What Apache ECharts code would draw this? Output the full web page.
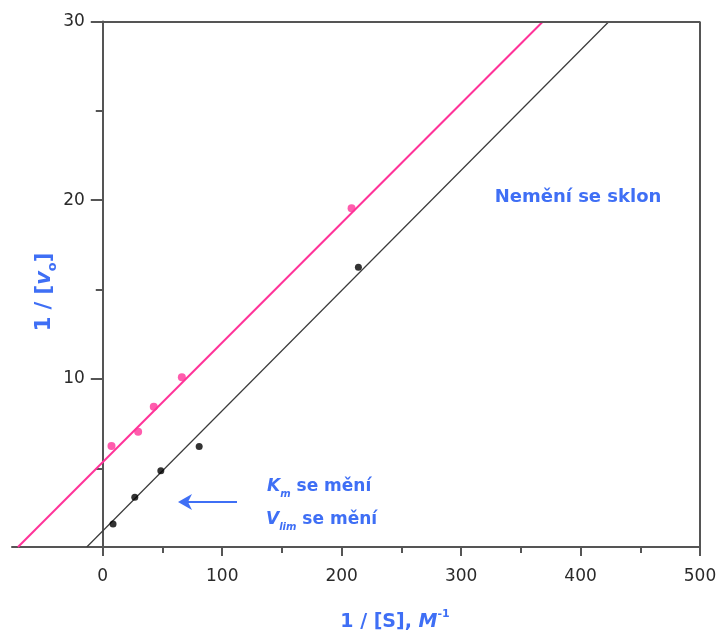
<!DOCTYPE html>
<html><head><meta charset="utf-8">
<script src="https://cdn.jsdelivr.net/npm/echarts@6/dist/echarts.min.js"></script>
<style>html,body{margin:0;padding:0;background:#fff}#c{width:721px;height:639px}</style>
</head><body><div id="c"></div><script>
// Data
const pinkX = [7.3, 29.6, 42.7, 66.2, 208.3];
const pinkY = [6.25, 7.05, 8.45, 10.1, 19.55];
const blackX = [8.6, 26.8, 48.6, 80.7, 214];
const blackY = [1.89, 3.38, 4.87, 6.22, 16.25];
// regression line end points
const pinkFitX = [-71, 368.5];
const pinkFitY = [0.6, 30];
const blackFitX = [-13.4, 423.8];
const blackFitY = [0.6, 30];
// axes
const xTickLabels = [0, 100, 200, 300, 400, 500];
const xMinorTicks = [50, 150, 250, 350, 450];
const yTickLabels = [10, 20, 30];
const yMinorTicks = [5, 15, 25];
const xRange = [-76, 500];
const yRange = [0.6, 30];

const zip = (a, b) => a.map((v, i) => [v, b[i]]);
const BLUE = '#3f6ff5';
const PINK = '#ff3399';
const AX = '#555';
const FONT = '"DejaVu Sans", sans-serif';
const W = 721, GL = 12, GR = 21;
const gridW = W - GL - GR;
// y axis sits at x = 0: shift it inward from the grid's left edge
const yOffset = -(0 - xRange[0]) / (xRange[1] - xRange[0]) * gridW;

const chart = echarts.init(document.getElementById('c'), null, {renderer: 'canvas'});
const tickLabelStyle = {color: '#2a2a2a', fontSize: 17, fontFamily: FONT};

chart.setOption({
  animation: false,
  backgroundColor: '#fff',
  grid: {left: GL, right: GR, top: 21.5, bottom: 92, containLabel: false, outerBoundsMode: 'none'},
  xAxis: [{
    type: 'value', min: xRange[0], max: xRange[1], position: 'bottom',
    axisLine: {show: true, onZero: false, lineStyle: {color: AX, width: 2}},
    axisTick: {show: true, inside: false, length: 9, customValues: xTickLabels, lineStyle: {color: AX, width: 2}},
    axisLabel: {show: true, customValues: xTickLabels, margin: 21, ...tickLabelStyle},
    splitLine: {show: false}
  }, {
    type: 'value', min: xRange[0], max: xRange[1], position: 'bottom',
    axisLine: {show: false, onZero: false},
    axisTick: {show: true, inside: false, length: 6, customValues: xMinorTicks, lineStyle: {color: AX, width: 2}},
    axisLabel: {show: false},
    splitLine: {show: false}
  }],
  yAxis: [{
    type: 'value', min: yRange[0], max: yRange[1], position: 'left', offset: yOffset,
    axisLine: {show: true, onZero: false, lineStyle: {color: AX, width: 2}},
    axisTick: {show: true, inside: false, length: 12, customValues: yTickLabels, lineStyle: {color: AX, width: 2}},
    axisLabel: {show: true, customValues: yTickLabels, margin: 18, ...tickLabelStyle},
    splitLine: {show: false}
  }, {
    type: 'value', min: yRange[0], max: yRange[1], position: 'left', offset: yOffset,
    axisLine: {show: false, onZero: false},
    axisTick: {show: true, inside: false, length: 7, customValues: yMinorTicks, lineStyle: {color: AX, width: 2}},
    axisLabel: {show: false},
    splitLine: {show: false}
  }],
  series: [
    {
      type: 'line', name: 'frame', data: [], xAxisIndex: 0, yAxisIndex: 0,
      markLine: {
        silent: true, symbol: 'none', label: {show: false},
        lineStyle: {color: AX, width: 2, type: 'solid'},
        data: [
          [{coord: [0, yRange[1]]}, {coord: [xRange[1], yRange[1]]}],
          [{coord: [xRange[1], yRange[0]]}, {coord: [xRange[1], yRange[1]]}]
        ]
      }
    },
    {
      type: 'line', name: 'pinkFit', data: zip(pinkFitX, pinkFitY), showSymbol: false,
      lineStyle: {color: PINK, width: 2}, z: 3
    },
    {
      type: 'line', name: 'blackFit', data: zip(blackFitX, blackFitY), showSymbol: false,
      lineStyle: {color: '#3a3a3a', width: 1.2}, z: 3
    },
    {
      type: 'scatter', name: 'pink', data: zip(pinkX, pinkY), symbol: 'circle', symbolSize: 8,
      itemStyle: {color: PINK}, z: 5
    },
    {
      type: 'scatter', name: 'black', data: zip(blackX, blackY), symbol: 'circle', symbolSize: 7,
      itemStyle: {color: '#000'}, z: 5
    }
  ],
  graphic: [
    {
      type: 'text', x: 578, y: 197, z: 10,
      style: {text: 'Nemění se sklon', fill: BLUE, font: 'bold 18px ' + FONT, textAlign: 'center', textVerticalAlign: 'middle'}
    },
    {
      type: 'text', x: 267, y: 487, z: 10,
      style: {
        text: '{i|K}{s|m}{n| se mění}', textAlign: 'left', textVerticalAlign: 'middle',
        rich: {
          i: {fill: BLUE, fontFamily: FONT, fontStyle: 'italic', fontWeight: 'bold', fontSize: 17, lineHeight: 24, verticalAlign: 'middle'},
          s: {fill: BLUE, fontFamily: FONT, fontStyle: 'italic', fontWeight: 'bold', fontSize: 10, lineHeight: 24, verticalAlign: 'bottom'},
          n: {fill: BLUE, fontFamily: FONT, fontWeight: 'bold', fontSize: 17, lineHeight: 24, verticalAlign: 'middle'}
        }
      }
    },
    {
      type: 'text', x: 266, y: 520, z: 10,
      style: {
        text: '{i|V}{s|lim}{n| se mění}', textAlign: 'left', textVerticalAlign: 'middle',
        rich: {
          i: {fill: BLUE, fontFamily: FONT, fontStyle: 'italic', fontWeight: 'bold', fontSize: 17, lineHeight: 24, verticalAlign: 'middle'},
          s: {fill: BLUE, fontFamily: FONT, fontStyle: 'italic', fontWeight: 'bold', fontSize: 10, lineHeight: 24, verticalAlign: 'bottom'},
          n: {fill: BLUE, fontFamily: FONT, fontWeight: 'bold', fontSize: 17, lineHeight: 24, verticalAlign: 'middle'}
        }
      }
    },
    {
      type: 'line', z: 10, shape: {x1: 237, y1: 502, x2: 182, y2: 502},
      style: {stroke: BLUE, lineWidth: 2}
    },
    {
      type: 'polygon', z: 10, shape: {points: [[178, 502], [192, 494], [188, 502], [192, 510]]},
      style: {fill: BLUE}
    },
    {
      type: 'text', x: 45, y: 292, rotation: Math.PI / 2, z: 10,
      style: {
        text: '{n|1 / [}{i|v}{s|o}{n|]}', textAlign: 'center', textVerticalAlign: 'middle',
        rich: {
          n: {fill: BLUE, fontFamily: FONT, fontWeight: 'bold', fontSize: 21, lineHeight: 28, verticalAlign: 'middle'},
          i: {fill: BLUE, fontFamily: FONT, fontStyle: 'italic', fontWeight: 'bold', fontSize: 21, lineHeight: 28, verticalAlign: 'middle'},
          s: {fill: BLUE, fontFamily: FONT, fontWeight: 'bold', fontSize: 13, lineHeight: 28, verticalAlign: 'bottom'}
        }
      }
    },
    {
      type: 'text', x: 395, y: 622, z: 10,
      style: {
        text: '{n|1 / [S], }{i|M}{s|-1}', textAlign: 'center', textVerticalAlign: 'middle',
        rich: {
          n: {fill: BLUE, fontFamily: FONT, fontWeight: 'bold', fontSize: 19, lineHeight: 26, verticalAlign: 'middle'},
          i: {fill: BLUE, fontFamily: FONT, fontStyle: 'italic', fontWeight: 'bold', fontSize: 19, lineHeight: 26, verticalAlign: 'middle'},
          s: {fill: BLUE, fontFamily: FONT, fontWeight: 'bold', fontSize: 11, lineHeight: 26, verticalAlign: 'top'}
        }
      }
    }
  ]
});
</script></body></html>
